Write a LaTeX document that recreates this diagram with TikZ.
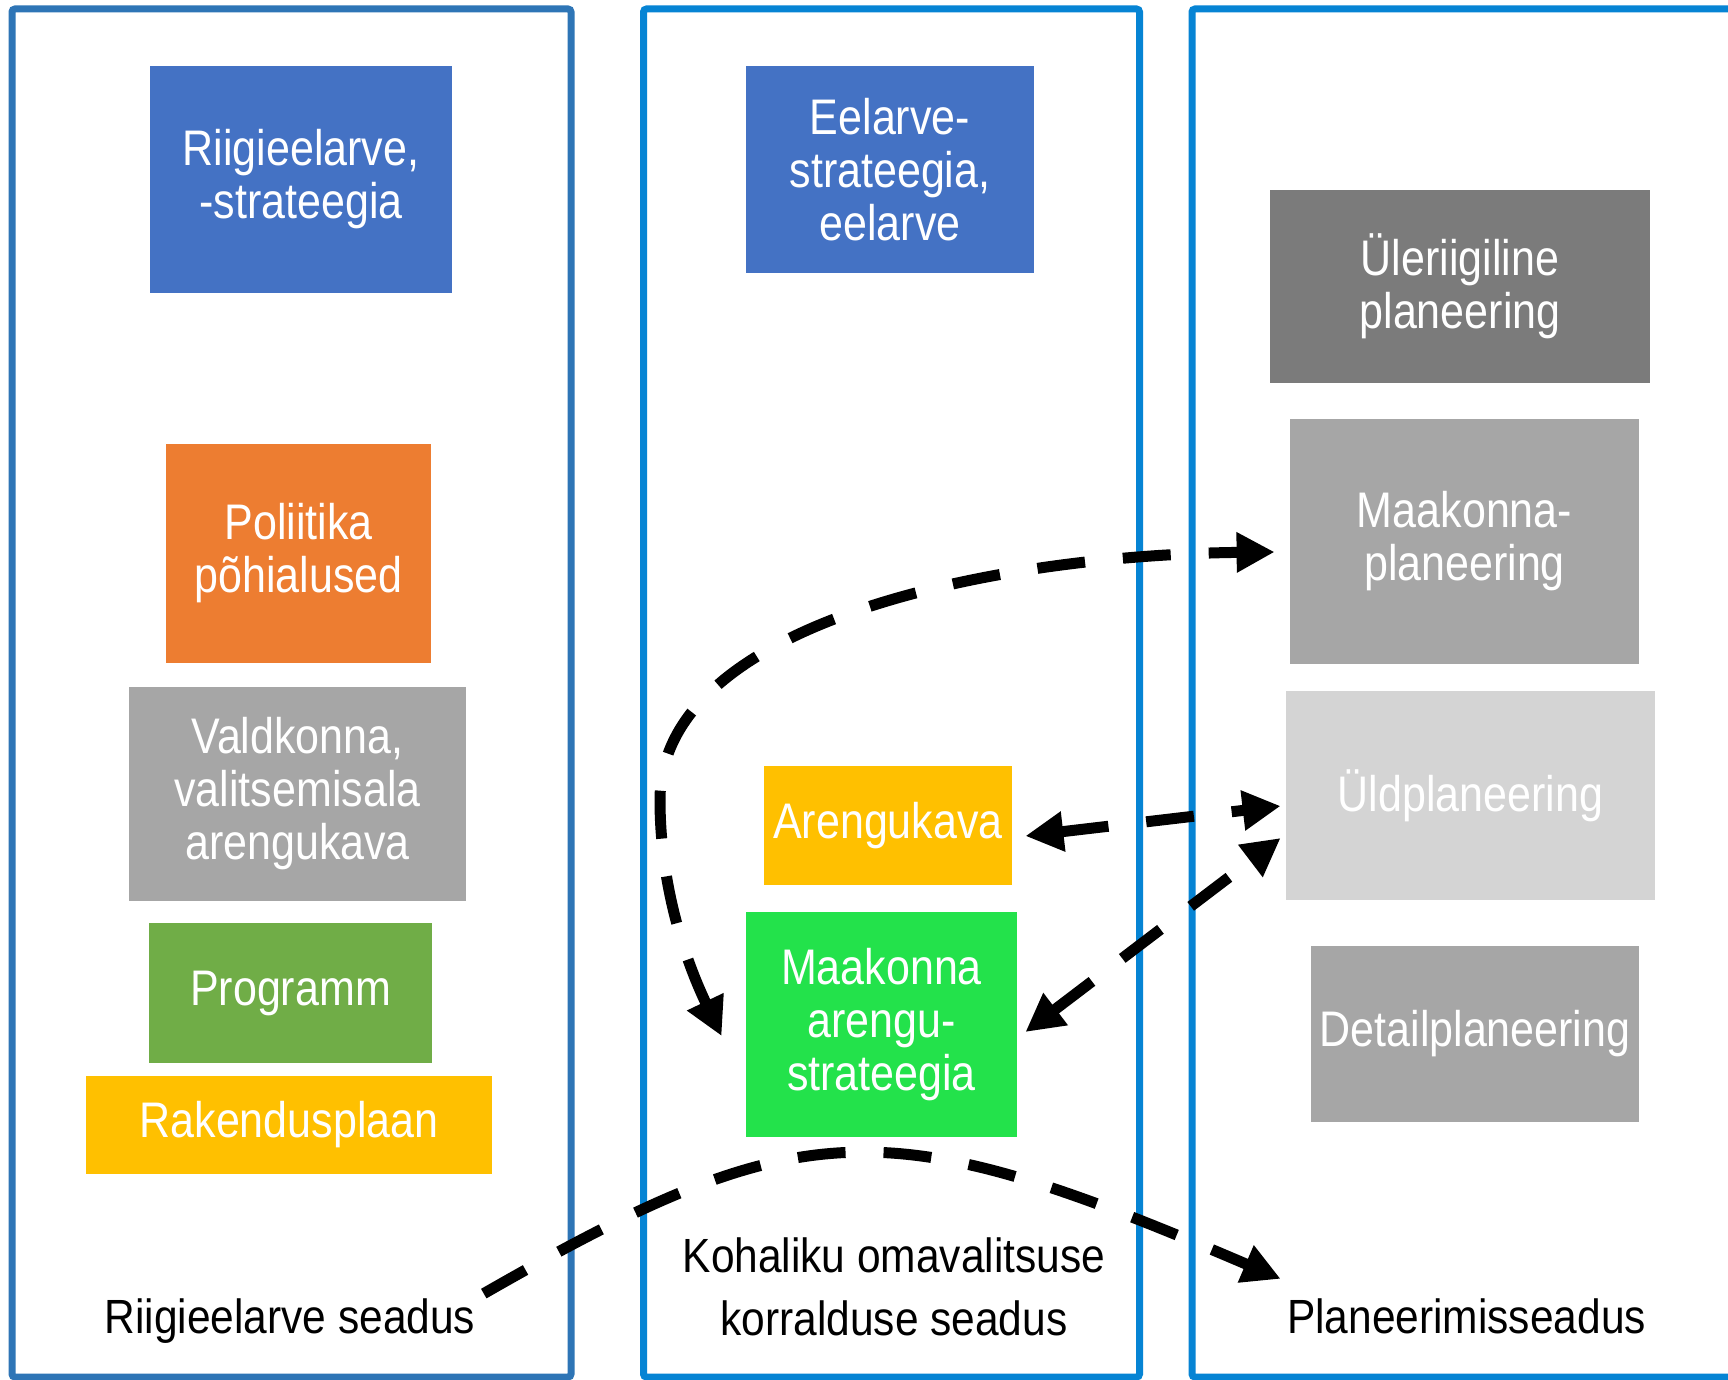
\documentclass[tikz,border=0pt]{standalone}
\usepackage{fontspec}
\setmainfont{Liberation Sans}[FakeStretch=0.86]
\newfontfamily\labfamily{Liberation Sans}[FakeStretch=0.885]
\usetikzlibrary{arrows.meta,calc}
\definecolor{pblueA}{HTML}{2E75B6}
\definecolor{pblueB}{HTML}{0684D4}
\definecolor{cblue}{HTML}{4472C4}
\definecolor{cdgray}{HTML}{7B7B7B}
\definecolor{cgray}{HTML}{A6A6A6}
\definecolor{clgray}{HTML}{D4D4D4}
\definecolor{corange}{HTML}{ED7D31}
\definecolor{cgreen}{HTML}{70AD47}
\definecolor{cyellow}{HTML}{FFC000}
\definecolor{cbright}{HTML}{23E24B}
\newcommand\boxfont{\fontsize{25}{26.5}\selectfont}
\newcommand\labfont{\labfamily\fontsize{24}{31.5}\selectfont}
\tikzset{
  panel/.style={line width=3.5pt, rounded corners=1.5pt},
  box/.style={rectangle, inner sep=0pt, align=center, text=white, font=\boxfont},
  lab/.style={inner sep=0pt, align=center, text=black, font=\labfont},
  link/.style={line width=5.5pt, dash pattern=on 24pt off 19pt, black},
  >={Triangle[length=19pt,width=19pt]}
}
\begin{document}
\begin{tikzpicture}[x=0.5pt,y=-0.5pt]
\clip (0,0) rectangle (1728,1380);
\fill[white] (0,0) rectangle (1728,1380);
% panels
\draw[panel, draw=pblueA] (12,9) rectangle (571,1377);
\draw[panel, draw=pblueB] (643.5,9) rectangle (1139.5,1377);
\draw[panel, draw=pblueB] (1192,9) rectangle (1790,1377);
% left column
\node[box, fill=cblue, minimum width=151pt, minimum height=113.5pt] (riig) at (301,179.5) {Riigieelarve,\\-strateegia};
\node[box, fill=corange, minimum width=132.5pt, minimum height=109.5pt] (pol) at (298.5,553.5) {Poliitika\\põhialused};
\node[box, fill=cgray, minimum width=168.5pt, minimum height=107pt] (val) at (297.5,794) {Valdkonna,\\valitsemisala\\arengukava};
\node[box, fill=cgreen, minimum width=141.5pt, minimum height=70pt] (prog) at (290.5,993) {Programm};
\node[box, fill=cyellow, minimum width=203pt, minimum height=49pt] (rak) at (289,1125) {Rakendusplaan};
% middle column
\node[box, fill=cblue, minimum width=144pt, minimum height=103.5pt] (eel) at (890,169.5) {Eelarve-\\strateegia,\\eelarve};
\node[box, fill=cyellow, minimum width=124pt, minimum height=59.5pt] (are) at (888,825.5) {Arengukava};
\node[box, fill=cbright, minimum width=135.5pt, minimum height=112.5pt] (mas) at (881.5,1024.5) {Maakonna\\arengu-\\strateegia};
% right column
\node[box, fill=cdgray, minimum width=190pt, minimum height=96.5pt] (ule) at (1460,286.5) {Üleriigiline\\planeering};
\node[box, fill=cgray, minimum width=174.5pt, minimum height=122.5pt] (mpl) at (1464.5,541.5) {Maakonna-\\planeering};
\node[box, fill=clgray, minimum width=184.5pt, minimum height=104.5pt] (uld) at (1470.5,795.5) {Üldplaneering};
\node[box, fill=cgray, minimum width=164pt, minimum height=88pt] (det) at (1475,1034) {Detailplaneering};
% law labels
\node[lab, anchor=base] (lrs) at (290,1333) {Riigieelarve seadus};
\node[lab] (lko) at (894,1287) {Kohaliku omavalitsuse\\korralduse seadus};
\node[lab, anchor=base] (lpl) at (1466.5,1333) {Planeerimisseadus};
% connectors
\coordinate (s4) at ($(lrs.east)+(8,-27)$);
\coordinate (e4) at ($(lpl.west)+(-6,-37)$);
\draw[link, <->] ($(mas.west)+(-24,11.5)$) .. controls (682,953) and (660,880) .. (660,800)
   .. controls (660,620) and (1000,555) .. ($(mpl.west)+(-15,10.5)$);
\draw[link, <->] ($(are.east)+(13,10.5)$) -- ($(uld.west)+(-5,10.5)$);
\draw[link, <->] ($(mas.east)+(8,7.5)$) -- ($(uld.west)+(-5,42.5)$);
\draw[link, ->] (s4) .. controls (804,1110) and (886,1110) .. (e4);
\end{tikzpicture}
\end{document}
